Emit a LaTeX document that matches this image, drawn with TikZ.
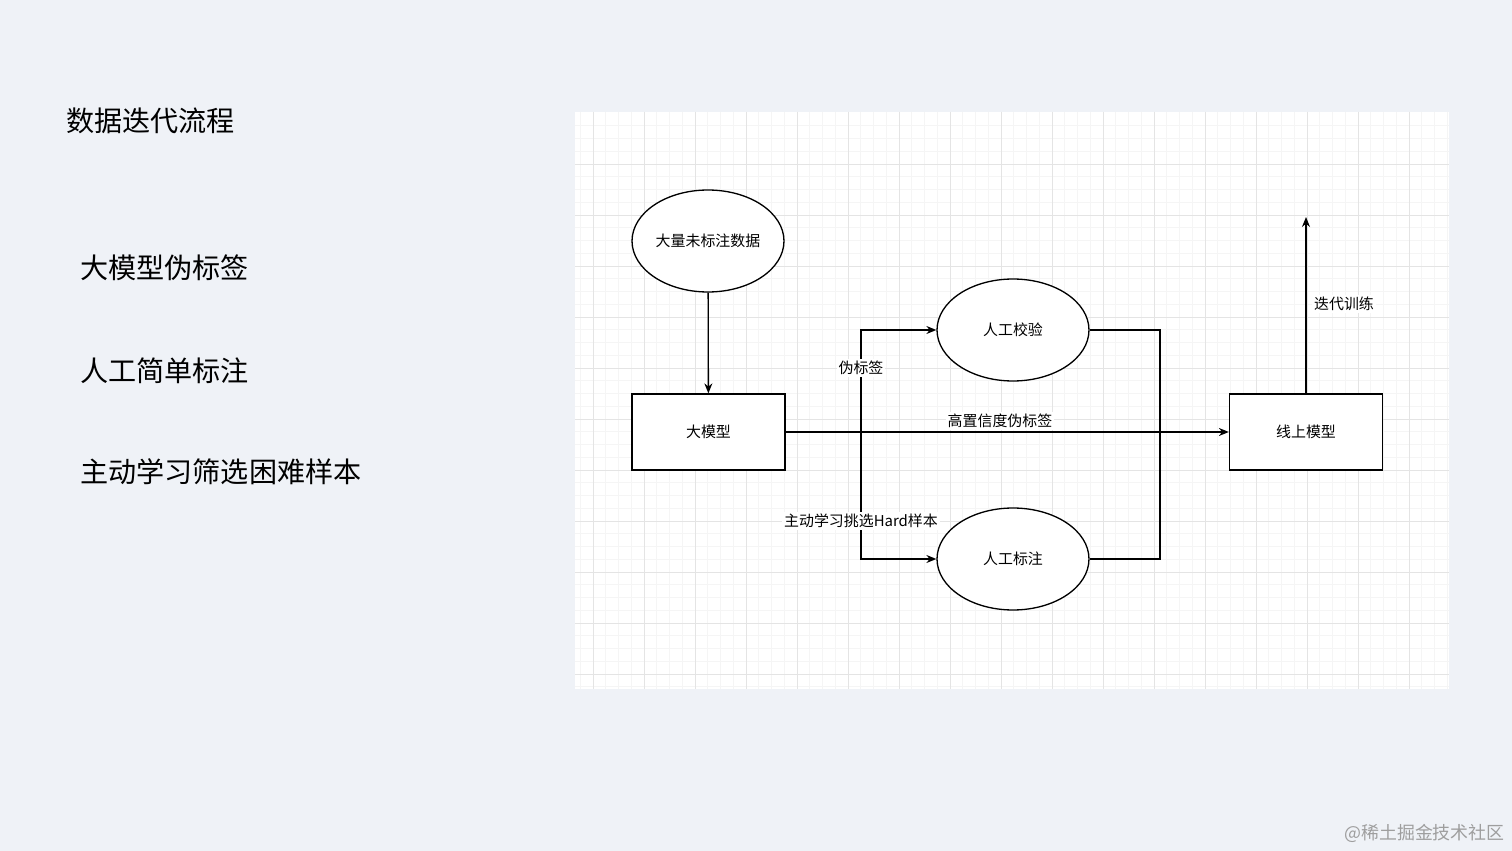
\documentclass[tikz,border=0pt]{standalone}
\usepackage{fontspec}
\setmainfont{Noto Sans CJK SC}
\usetikzlibrary{shapes.geometric, arrows.meta, positioning}
\definecolor{pagebg}{RGB}{239,242,247}
\definecolor{gridminor}{RGB}{245,245,245}
\definecolor{gridmajor}{RGB}{228,228,228}

\begin{document}
\begin{tikzpicture}[
    x=0.02cm, y=-0.02cm,
    font=\fontsize{8.5}{10}\selectfont,
    blob/.style = {
        ellipse, draw=black, fill=white, line width=0.75pt,
        minimum width=3.04cm, minimum height=2.04cm, inner sep=0pt
    },
    box/.style = {
        rectangle, draw=black, fill=white, line width=0.75pt,
        minimum width=3.06cm, minimum height=1.52cm
    },
    side/.style = {anchor=west, inner sep=0pt, font=\fontsize{16}{18}\selectfont},
    tag/.style = {fill=white, inner sep=1pt},
    arr/.style = {-{Stealth[length=2mm,width=1.6mm]}, line width=0.75pt},
    wire/.style = {line width=0.75pt},
]

% Page and grid panel
\fill[pagebg] (0,0) rectangle (1512,851);
\useasboundingbox (0,0) rectangle (1512,851);
\fill[white] (575,112) rectangle (1449,689);
\begin{scope}
    \clip (575,112) rectangle (1449,689);
    \foreach \gx in {580.25,593,...,1450}
        \draw[gridminor, line width=0.5pt] (\gx,112) -- (\gx,689);
    \foreach \gy in {125.75,138.5,...,690}
        \draw[gridminor, line width=0.5pt] (575,\gy) -- (1449,\gy);
    \foreach \gx in {593,644,...,1450}
        \draw[gridmajor, line width=0.5pt] (\gx,112) -- (\gx,689);
    \foreach \gy in {164,215,...,690}
        \draw[gridmajor, line width=0.5pt] (575,\gy) -- (1449,\gy);
\end{scope}

% Left side text
\node[side] (title) at (66,121) {数据迭代流程};
\node[side] (step1) at (80,268) {大模型伪标签};
\node[side] (step2) at (80,371) {人工简单标注};
\node[side] (step3) at (80,472) {主动学习筛选困难样本};

% Diagram nodes
\node[blob] (raw) at (708,241) {大量未标注数据};
\node[box] (big) at (708.5,432) {大模型};
\node[blob] (check) at (1013,330) {人工校验};
\node[blob] (manual) at (1013,559) {人工标注};
\node[box] (online) at (1306,432) {线上模型};
\coordinate (fork) at (861,432);
\coordinate (merge) at (1160,432);
\coordinate (train) at (1306,217);

% Connectors
\draw[arr] (raw) -- (big);
\draw[arr] (big.east) -- (online.west);
\draw[arr] (fork) |- (check.west);
\draw[arr] (fork) |- (manual.west);
\draw[wire] (check.east) -| (merge) |- (manual.east);
\draw[arr] (online.north) -- (train);

% Connector labels
\node[tag] (lfork) at (861,368) {伪标签};
\node[tag] (lhigh) at (1000,421) {高置信度伪标签};
\node[tag] (lhard) at (861,521) {主动学习挑选Hard样本};
\node[tag] (ltrain) at (1344,304) {迭代训练};

% Watermark
\node[anchor=east, inner sep=0pt, text=black!38, font=\fontsize{10.2}{12}\selectfont] (mark)
    at (1505,833) {@稀土掘金技术社区};

\end{tikzpicture}
\end{document}
